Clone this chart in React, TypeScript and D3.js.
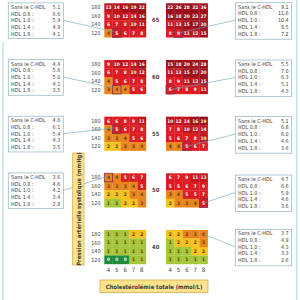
import React from "react";
import * as d3 from "d3";

// chart values
const cholesterol = [4, 5, 6, 7, 8];
const pressures = [180, 160, 140, 120];
const ages = [65, 60, 55, 50, 40];

const leftRisk = [
  [[13, 14, 16, 19, 22], [9, 10, 12, 14, 16], [6, 7, 8, 10, 11], [4, 5, 6, 7, 8]],
  [[9, 10, 12, 14, 16], [6, 7, 8, 10, 12], [4, 5, 6, 7, 8], [3, 4, 4, 5, 6]],
  [[6, 6, 8, 9, 11], [4, 5, 6, 7, 8], [3, 3, 4, 5, 6], [2, 2, 3, 3, 4]],
  [[4, 4, 5, 6, 7], [3, 3, 3, 4, 5], [2, 2, 2, 3, 4], [1, 1, 2, 2, 3]],
  [[1, 1, 1, 2, 2], [1, 1, 1, 1, 1], [1, 1, 1, 1, 1], [0, 0, 0, 1, 1]],
];

const rightRisk = [
  [[22, 26, 28, 32, 36], [16, 18, 20, 23, 27], [11, 13, 15, 17, 20], [8, 9, 11, 12, 15]],
  [[15, 18, 20, 24, 28], [11, 13, 15, 17, 20], [8, 9, 11, 13, 15], [6, 7, 8, 9, 11]],
  [[10, 12, 14, 16, 19], [7, 8, 10, 12, 14], [5, 6, 7, 8, 10], [4, 4, 5, 6, 7]],
  [[6, 7, 9, 11, 13], [5, 5, 6, 7, 9], [3, 4, 5, 5, 7], [2, 3, 3, 4, 5]],
  [[2, 2, 3, 3, 4], [1, 2, 2, 2, 3], [1, 1, 1, 2, 2], [1, 1, 1, 1, 1]],
];

const hdlLabels = ["Sans le C-HDL", "HDL 0.8 :", "HDL 1.0 :", "HDL 1.4 :", "HDL 1.8 :"];
const leftBoxValues = [
  [5.1, 6.6, 5.9, 4.9, 4.1],
  [4.4, 5.6, 5.0, 4.1, 3.5],
  [4.6, 6.1, 5.4, 4.3, 3.5],
  [3.6, 4.6, 4.2, 3.4, 2.8],
];
const rightBoxValues = [
  [9.1, 11.6, 10.4, 8.5, 7.2],
  [5.5, 7.0, 6.3, 5.1, 4.3],
  [5.1, 6.8, 6.0, 4.6, 3.6],
  [4.7, 6.6, 5.9, 4.6, 3.6],
  [3.7, 4.9, 4.3, 3.3, 2.6],
];
// highlighted cell [row, col] per box
const leftMarked = [[3, 1], [3, 1], [1, 1], [0, 0]];
const rightMarked = [[3, 1], [3, 0], [3, 2], [3, 4], [0, 4]];

const riskColor = (v: number) =>
  v === 0 ? "#1f8a3c"
  : v === 1 ? "#a5c63b"
  : v === 2 ? "#f6c21f"
  : v <= 4 ? "#e9851f"
  : v <= 9 ? "#dc1c22"
  : v <= 14 ? "#c0141d"
  : "#9a0f19";

const textColor = (v: number) => (v === 0 || v >= 5 ? "#fff" : "#5a3500");

const FONT = "'Liberation Sans Narrow', 'DejaVu Sans Condensed', sans-serif";

const W = 300, H = 300;
const gridW = 41.7, gridH = 34;
const leftX = 104.3, rightX = 166;
const groupY = d3.scaleLinear().domain([0, 4]).range([3.3, 230]);
const xBand = d3.scaleBand<number>().domain(cholesterol).range([0, gridW]);
const yBand = d3.scaleBand<number>().domain(pressures).range([0, gridH]);

const Grid = ({ data, x0, y0 }: { data: number[][]; x0: number; y0: number }) => (
  <g transform={`translate(${x0},${y0})`}>
    {data.map((row, ri) =>
      row.map((v, ci) => (
        <g key={`${ri}-${ci}`}>
          <rect
            x={xBand(cholesterol[ci])}
            y={yBand(pressures[ri])}
            width={xBand.bandwidth() + 0.2}
            height={yBand.bandwidth() + 0.2}
            fill={riskColor(v)}
          />
          <text
            x={(xBand(cholesterol[ci]) as number) + xBand.bandwidth() / 2}
            y={(yBand(pressures[ri]) as number) + yBand.bandwidth() / 2}
            dy="0.35em"
            textAnchor="middle"
            fontSize={4.8}
            fontWeight="bold"
            fill={textColor(v)}
            fontFamily={FONT}
          >
            {v}
          </text>
        </g>
      ))
    )}
  </g>
);

const InfoBox = ({ x, y, w, h, values }: { x: number; y: number; w: number; h: number; values: number[] }) => (
  <g>
    <rect x={x} y={y} width={w} height={h} fill="#fff" stroke="#8fb2c2" strokeWidth={0.7} />
    {hdlLabels.map((l, i) => (
      <g key={l}>
        <text x={x + 2.8} y={y + 4.2 + i * 6.7} dy="0.35em" fontSize={5.4} fill="#444" fontFamily={FONT}>
          {l}
        </text>
        <text x={x + w - 3} y={y + 4.2 + i * 6.7} dy="0.35em" fontSize={5.4} fill="#444" textAnchor="end" fontFamily={FONT}>
          {d3.format(".1f")(values[i])}
        </text>
      </g>
    ))}
  </g>
);

const cellCenter = (x0: number, y0: number, r: number, c: number, fx = 0.5) => [
  x0 + (xBand(cholesterol[c]) as number) + xBand.bandwidth() * fx,
  y0 + (yBand(pressures[r]) as number) + yBand.bandwidth() / 2,
];

export default function App() {
  const lbX = 8.3, lbW = 55, lbH = 35.7;
  const rbX = 235.3, rbW = 56.4, rbH = 36.5;
  const rightOffset = [-0.6, 0, 0, 1.7, -0.7];
  return (
    <svg width={W} height={H} style={{ position: "absolute", left: 0, top: 0, background: "#fff" }}>
      <line x1={3} y1={42} x2={3} y2={300} stroke="#a3d2de" strokeWidth={0.9} />
      <line x1={296.8} y1={0} x2={296.8} y2={300} stroke="#a3d2de" strokeWidth={0.9} />

      {ages.map((a, gi) => {
        const y0 = groupY(gi);
        return (
          <g key={a}>
            <Grid data={leftRisk[gi]} x0={leftX} y0={y0} />
            <Grid data={rightRisk[gi]} x0={rightX} y0={y0} />
            {pressures.map((p) => (
              <text
                key={p}
                x={100.5}
                y={y0 + (yBand(p) as number) + yBand.bandwidth() / 2}
                dy="0.35em"
                textAnchor="end"
                fontSize={5.4}
                fill="#444"
                fontFamily={FONT}
              >
                {p}
              </text>
            ))}
            <text x={155.7} y={y0 + gridH / 2} dy="0.35em" textAnchor="middle" fontSize={5.8} fontWeight="bold" fill="#444" fontFamily={FONT}>
              {a}
            </text>
          </g>
        );
      })}

      {leftBoxValues.map((vals, i) => {
        const y = groupY(i) - 0.4;
        const [r, c] = leftMarked[i];
        const [cx, cy] = cellCenter(leftX, groupY(i), r, c, i === 3 ? 0.5 : 0.15);
        const cxr = leftX + (xBand(cholesterol[c]) as number);
        const cyr = groupY(i) + (yBand(pressures[r]) as number);
        return (
          <g key={i}>
            <InfoBox x={lbX} y={y} w={lbW} h={lbH} values={vals} />
            <rect x={cxr} y={cyr} width={xBand.bandwidth()} height={yBand.bandwidth()} fill="none" stroke="#7a2b4e" strokeWidth={0.8} />
            <line x1={lbX + lbW} y1={y + 17.5} x2={cx} y2={cy - 1.5} stroke="#6aa3bb" strokeWidth={0.6} />
          </g>
        );
      })}

      {rightBoxValues.map((vals, i) => {
        const y = groupY(i) + rightOffset[i];
        const [r, c] = rightMarked[i];
        const [cx, cy] = cellCenter(rightX, groupY(i), r, c);
        const cxr = rightX + (xBand(cholesterol[c]) as number);
        const cyr = groupY(i) + (yBand(pressures[r]) as number);
        return (
          <g key={i}>
            <InfoBox x={rbX} y={y} w={rbW} h={rbH} values={vals} />
            {i < 4 && (
              <rect x={cxr} y={cyr} width={xBand.bandwidth()} height={yBand.bandwidth()} fill="none" stroke="#7a2b4e" strokeWidth={0.8} />
            )}
            <line x1={rbX} y1={y + 17.5} x2={cx} y2={cy} stroke="#6aa3bb" strokeWidth={0.6} />
          </g>
        );
      })}

      {[leftX, rightX].map((x0) =>
        cholesterol.map((c) => (
          <text
            key={`${x0}-${c}`}
            x={x0 + (xBand(c) as number) + xBand.bandwidth() / 2}
            y={270}
            dy="0.35em"
            textAnchor="middle"
            fontSize={6}
            fill="#444"
            fontFamily={FONT}
          >
            {c}
          </text>
        ))
      )}

      <rect x={72.7} y={153} width={11.3} height={112} fill="#fde38b" stroke="#d2a042" strokeWidth={0.7} />
      <text
        transform={`translate(78.6,209) rotate(-90)`}
        dy="0.35em"
        textAnchor="middle"
        fontSize={5.9}
        fontWeight="bold"
        fill="#3a3a3a"
        fontFamily={FONT}
      >
        Pression artérielle systolique (mmHg)
      </text>

      <rect x={100} y={280} width={108} height={12.7} fill="#fde38b" stroke="#d2a042" strokeWidth={0.7} />
      <text x={154} y={286.5} dy="0.35em" textAnchor="middle" fontSize={5.9} fontWeight="bold" fill="#3a3a3a" fontFamily={FONT}>
        Cholestérolémie totale (mmol/L)
      </text>
    </svg>
  );
}
